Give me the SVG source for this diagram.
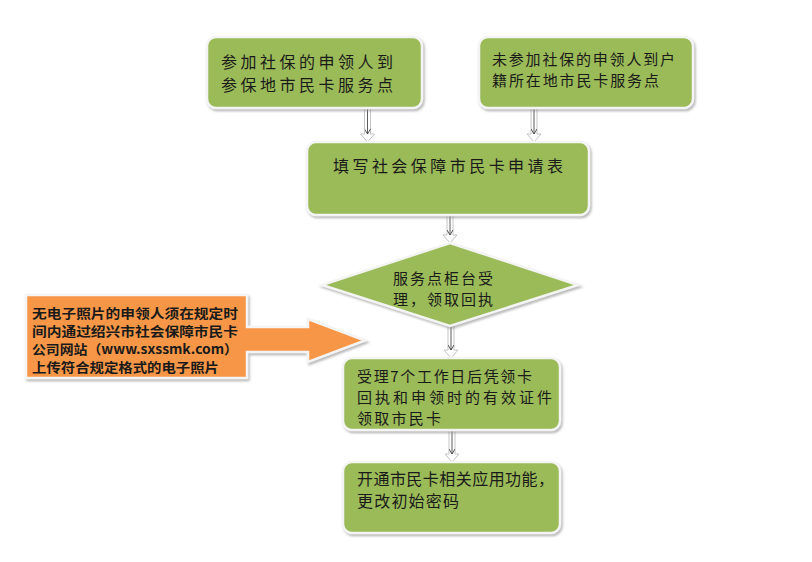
<svg xmlns="http://www.w3.org/2000/svg" width="812" height="562" viewBox="0 0 812 562">
<defs>
<filter id="sh" x="-10%" y="-10%" width="125%" height="130%">
<feDropShadow dx="1.5" dy="2" stdDeviation="1.2" flood-color="#8a8a8a" flood-opacity="0.6"/>
</filter>
<marker id="ah" markerWidth="6" markerHeight="6" refX="5" refY="3" orient="auto" markerUnits="userSpaceOnUse">
<path d="M0,0 L5,3 L0,6" fill="none" stroke="#333" stroke-width="0.8"/>
</marker>
<style>
.g{fill:#9BBB59;stroke:#f4f4f4;stroke-width:2.5;filter:url(#sh)}
.o{fill:#F79646;stroke:#f4f4f4;stroke-width:2.5;filter:url(#sh)}
.t{font-family:"Noto Sans CJK SC","Noto Sans",sans-serif;font-size:16px;fill:#1a1a1a;dominant-baseline:central}
.s{font-size:15px}
.b{font-family:"Noto Sans CJK SC","Noto Sans",sans-serif;font-size:13px;font-weight:bold;fill:#1a1a1a;dominant-baseline:central}
.blk{fill:#ffffff;stroke:#c4c4c4;stroke-width:1}
.ln{stroke:#333;stroke-width:0.8;fill:none;marker-end:url(#ah)}
</style>
</defs>
<rect width="812" height="562" fill="#ffffff"/>

<g id="connectors">
<path class="blk" d="M364.5,108 V134 H360.5 L367.5,142 L374.5,134 H370.5 V108 Z"/>
<path class="ln" d="M367.5,106 V134"/>
<path class="blk" d="M531,107 V134 H527 L534,142 L541,134 H537 V107 Z"/>
<path class="ln" d="M534,105 V134"/>
<path class="blk" d="M447,215 V235 H443 L450,243 L457,235 H453 V215 Z"/>
<path class="ln" d="M450,213 V235"/>
<path class="blk" d="M448,326 V350 H444 L451,358 L458,350 H454 V326 Z"/>
<path class="ln" d="M451,324 V350"/>
<path class="blk" d="M449,430 V454 H445 L452,462 L459,454 H455 V430 Z"/>
<path class="ln" d="M452,428 V454"/>
</g>

<g id="node-join-insured">
<rect class="g" x="207" y="37" width="215" height="71" rx="9"/>
<text class="t" x="221" y="61" textLength="172" lengthAdjust="spacing">参加社保的申领人到</text>
<text class="t" x="221" y="84" textLength="172" lengthAdjust="spacing">参保地市民卡服务点</text>
</g>

<g id="node-not-insured">
<rect class="g" x="479" y="37" width="214" height="71" rx="9"/>
<text class="t s" x="492" y="58" textLength="183" lengthAdjust="spacing">未参加社保的申领人到户</text>
<text class="t s" x="492" y="79" textLength="167" lengthAdjust="spacing">籍所在地市民卡服务点</text>
</g>

<g id="node-fill-form">
<rect class="g" x="307" y="142" width="282" height="73" rx="9"/>
<text class="t" x="333" y="165" textLength="230" lengthAdjust="spacing">填写社会保障市民卡申请表</text>
</g>

<g id="node-counter">
<polygon class="g" points="450,243 578,285 450,326 322,285"/>
<text class="t s" x="393" y="277.5" textLength="100" lengthAdjust="spacing">服务点柜台受</text>
<text class="t s" x="393" y="298.5" textLength="100" lengthAdjust="spacing">理，领取回执</text>
</g>

<g id="node-photo-note">
<path class="o" d="M26,295 H247 V327 H308 V319 L365,340.5 L308,362 V352 H247 V378 H26 Z"/>
<text class="b" x="32" y="312" textLength="206" lengthAdjust="spacingAndGlyphs">无电子照片的申领人须在规定时</text>
<text class="b" x="32" y="330" textLength="206" lengthAdjust="spacingAndGlyphs">间内通过绍兴市社会保障市民卡</text>
<text class="b" x="32" y="348" textLength="206" lengthAdjust="spacingAndGlyphs">公司网站（www.sxssmk.com）</text>
<text class="b" x="32" y="366" textLength="187" lengthAdjust="spacingAndGlyphs">上传符合规定格式的电子照片</text>
</g>

<g id="node-collect-card">
<rect class="g" x="343" y="358" width="217" height="72" rx="9"/>
<text class="t s" x="357" y="375" textLength="175" lengthAdjust="spacing">受理7个工作日后凭领卡</text>
<text class="t s" x="357" y="396" textLength="195" lengthAdjust="spacing">回执和申领时的有效证件</text>
<text class="t s" x="357" y="417" textLength="84" lengthAdjust="spacing">领取市民卡</text>
</g>

<g id="node-activate">
<rect class="g" x="343" y="462" width="217" height="71" rx="9"/>
<text class="t" x="357" y="478" textLength="197" lengthAdjust="spacing">开通市民卡相关应用功能，</text>
<text class="t" x="357" y="500" textLength="102" lengthAdjust="spacing">更改初始密码</text>
</g>
</svg>
